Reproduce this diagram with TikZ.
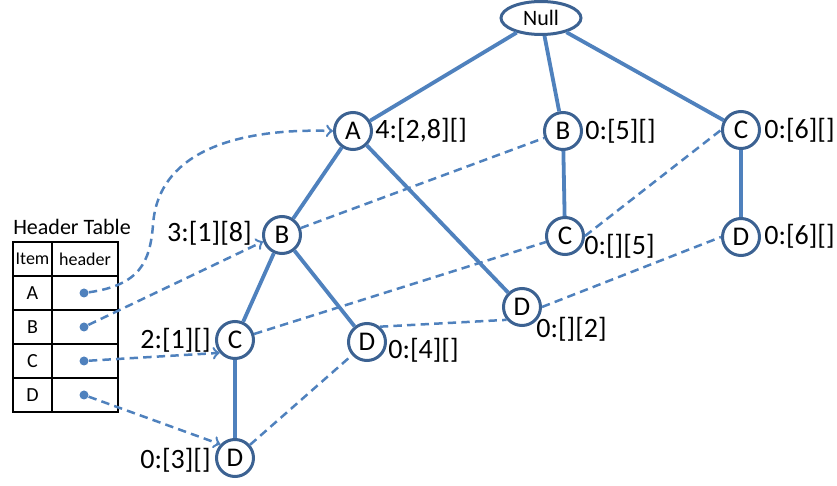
\documentclass[tikz,border=0pt]{standalone}
\usepackage{fontspec}
\setmainfont{Carlito}
\usetikzlibrary{arrows,positioning,shapes.geometric}
\definecolor{linkblue}{RGB}{79,129,189}
\definecolor{rimblue}{RGB}{60,98,146}

\begin{document}
\begin{tikzpicture}[x=0.5pt, y=-0.5pt,
    item/.style={circle, draw=rimblue, line width=1.5pt, fill=white,
        minimum size=18.5pt, inner sep=0pt, font=\fontsize{13.5}{15}\selectfont},
    count/.style={inner sep=0pt, font=\fontsize{14}{16}\selectfont},
    tree/.style={draw=linkblue, line width=1.9pt},
    link/.style={draw=linkblue, line width=1.25pt, dash pattern=on 4.2pt off 2.6pt},
    cell/.style={draw, line width=0.9pt, inner sep=0pt, minimum height=17pt,
        font=\fontsize{10}{12}\selectfont},
    dot/.style={circle, fill=linkblue, inner sep=0pt, minimum size=4.5pt}]
    \useasboundingbox (0,0) rectangle (837,486);

    % tree nodes
    \node[ellipse, draw=rimblue, line width=1.5pt, fill=white, minimum width=40pt,
        minimum height=16.5pt, inner sep=0pt, font=\fontsize{11}{13}\selectfont]
        (root) at (541,18) {Null};
    \foreach \n/\t/\x/\y in {A/A/353/131, B/B/563/131, C/C/741/130,
            AB/B/282/235, BC/C/565/236, CD/D/741/237, AD/D/522/307,
            ABC/C/235/340, ABD/D/367/342, ABCD/D/235/458}
        \node[item] (\n) at (\x,\y) {\t};

    % counts and bit lists
    \foreach \n/\a/\x/\y/\t in {A/west/375/130/{4:[2,8][]}, B/west/585/131/{0:[5][]},
            C/west/764/130/{0:[6][]}, AB/east/252/233/{3:[1][8]},
            BC/west/584/246/{0:[][5]}, CD/west/764/236/{0:[6][]},
            AD/west/536/329/{0:[][2]}, ABC/east/211/340/{2:[1][]},
            ABD/west/388/350/{0:[4][]}, ABCD/east/211/460/{0:[3][]}}
        \node[count, anchor=\a] (cnt\n) at (\x,\y) {\t};

    \path[tree]
        (root) edge (A)
        (root) edge (B)
        (root) edge (C)
        (A) edge (AB)
        (A) edge (AD)
        (AB) edge (ABC)
        (AB) edge (ABD)
        (ABC) edge (ABCD)
        (B) edge (BC)
        (C) edge (CD)
    ;

    % node links
    \path[link]
        (AB) edge (B)
        (ABC) edge (BC)
        (BC.east) edge (C.west)
        (ABD.50) edge (AD.220)
        (ABCD) edge (ABD)
        (AD.east) edge (CD.west)
    ;

    % header table
    \node[font=\fontsize{11}{13}\selectfont] (title) at (72,227) {Header Table};
    \node[cell, minimum width=19.5pt, font=\fontsize{9}{11}\selectfont] (item) at (32.5,259) {Item};
    \node[cell, minimum width=33pt, font=\fontsize{9}{11}\selectfont] (header) at (85,259) {header};
    \foreach \t [count=\i] in {A,B,C,D} {
        \node[cell, minimum width=19.5pt] (row\t) at (32.5,259+34*\i) {\t};
        \node[cell, minimum width=33pt] (ptr\t) at (85,259+34*\i) {};
        \node[dot] (dot\t) at (84,259+34*\i) {};
    }

    \draw[link, ->] (dotA) .. controls (140,285) and (150,262) .. (153,225)
        .. controls (158,150) and (240,128) .. (A.west);
    \path[link, ->]
        (dotB) edge (AB.199)
        (dotC) edge (ABC.220)
        (dotD) edge (ABCD.137)
    ;
\end{tikzpicture}
\end{document}
